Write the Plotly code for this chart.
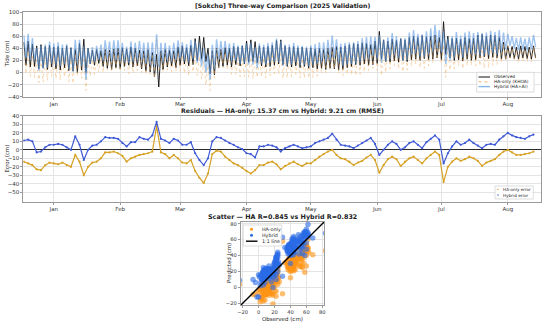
import plotly.graph_objects as go
from datetime import datetime, timedelta

# ---------------- data ----------------
start_date = "2024-12-18"
step_days = 2  # one high / low pair per 2-day step

obs_high = [50, 52, 47, 44, 46, 43, 45, 42, 43, 40,
            44, 41, 38, 48, 55, 40, 37, 38, 36, 38,
            37, 39, 40, 41, 39, 42, 40, 37, 36, 38,
            33, 30, 36, 38, 37, 36, 42, 44, 41, 45,
            56, 60, 58, 40, 36, 40, 38, 41, 40, 43,
            42, 44, 52, 54, 51, 44, 42, 43, 45, 53,
            54, 44, 42, 43, 41, 42, 40, 41, 39, 40,
            38, 40, 42, 43, 42, 44, 46, 48, 47, 49,
            48, 46, 52, 68, 54, 52, 55, 53, 56, 54,
            58, 60, 58, 61, 59, 60, 62, 58, 84, 60,
            56, 57, 55, 58, 56, 57, 62, 63, 60, 62,
            61, 58, 50, 44, 43, 42, 44, 43, 42, 44]

obs_low = [12, 9, 10, 6, 8, 5, 9, 6, 4, 8,
           3, 2, 0, 4, 0, 14, 12, 15, 10, 7,
           5, 8, 6, 10, 12, 9, 11, 6, 2, 1,
           -7, -24, 5, 9, 11, 8, 12, 14, 11, 13,
           20, 22, 18, -2, -4, 8, 10, 12, 9, 13,
           11, 14, 17, 18, 16, 11, 9, 10, 12, 14,
           13, 10, 9, 11, 8, 10, 7, 8, 6, 7,
           5, 7, 6, 4, 5, 8, 10, 13, 12, 14,
           12, 13, 15, 22, 18, 17, 19, 17, 20, 18,
           21, 22, 20, 23, 21, 22, 24, 21, 30, 24,
           20, 21, 19, 22, 20, 21, 24, 26, 23, 25,
           24, 22, 22, 24, 23, 22, 24, 23, 22, 24]

# residual = prediction - observation (cm)
hybrid_err = [11, 12, 10, -3, -2, 3, 6, 6, 7, 6,
              3, 0, 16, 6, -12, 0, 5, 6, 10, 15,
              14, 14, 13, 8, 4, 9, 9, 15, 13, 12,
              17, 33, 13, 11, 8, 13, 11, 6, 6, 9,
              -4, -12, -18, -10, 10, 15, 14, 11, 8, 6,
              3, 1, -4, -5, -9, 4, 4, 6, 5, 3,
              -2, 2, 4, 6, 4, 2, 3, 4, 8, 10,
              12, 14, 19, 12, 6, 5, 4, 2, 5, 8,
              11, 14, 7, -6, 0, 6, 10, 7, 0, 3,
              8, 10, 6, 2, 9, 13, 17, 12, -16, -4,
              4, 10, 6, 8, 12, 8, 5, 2, 6, 7,
              6, 12, 16, 20, 17, 15, 14, 13, 16, 18]

ha_err = [-14, -16, -18, -23, -24, -18, -15, -16, -17, -15,
          -18, -20, -6, -14, -30, -20, -15, -14, -10, -3,
          -3, -2, -4, -7, -14, -10, -8, -6, -5, -4,
          -2, 28, -3, -5, -10, -6, -10, -15, -16, -12,
          -25, -33, -39, -28, -5, -1, -2, -8, -12, -16,
          -18, -21, -25, -28, -24, -18, -18, -15, -14, -17,
          -23, -19, -16, -14, -17, -19, -16, -16, -12, -8,
          -5, -2, 0, -6, -10, -11, -14, -18, -15, -13,
          -9, -6, -12, -27, -18, -11, -8, -11, -19, -14,
          -10, -8, -12, -16, -10, -6, -2, -6, -38, -20,
          -14, -10, -13, -11, -8, -10, -13, -19, -15, -13,
          -11, -6, -2, 0, -3, -6, -6, -5, -4, -2]

month_ticks = ["2025-01-01", "2025-02-01", "2025-03-01", "2025-04-01",
               "2025-05-01", "2025-06-01", "2025-07-01", "2025-08-01"]
month_labels = ["Jan", "Feb", "Mar", "Apr", "May", "Jun", "Jul", "Aug"]
tide_ticks = [-40, -20, 0, 20, 40, 60, 80, 100]
err_ticks = [-50, -40, -30, -20, -10, 0, 10, 20, 30, 40]
scatter_ticks = [-20, 0, 20, 40, 60, 80]

title_top = "[Sokcho] Three-way Comparison (2025 Validation)"
title_mid = "Residuals \u2014 HA-only: 15.37 cm vs Hybrid: 9.21 cm (RMSE)"
title_sc = "Scatter \u2014 HA R=0.845 vs Hybrid R=0.832"

# ---------------- derived series ----------------
t0 = datetime.fromisoformat(start_date)
n = len(obs_high)
t_high = [t0 + timedelta(days=step_days * i) for i in range(n)]
t_low = [t0 + timedelta(days=step_days * i + 1) for i in range(n)]

zig_t, zig_obs, zig_ha, zig_hy = [], [], [], []
for i in range(n):
    zig_t += [t_high[i], t_low[i]]
    zig_obs += [obs_high[i], obs_low[i]]
    zig_ha += [obs_high[i] + ha_err[i], obs_low[i] + ha_err[i]]
    zig_hy += [obs_high[i] + hybrid_err[i], obs_low[i] + hybrid_err[i]]

W, H = 550, 324
def px(x):
    return x / W
def py(y):
    return 1 - y / H

FONT = "DejaVu Sans"
GRID = "#e4e4e4"
SPINE = "#9a9a9a"

C_OBS = "#111111"
C_HA_TOP = "rgba(240,180,110,0.6)"
C_HY_TOP = "rgba(95,155,225,0.6)"
C_HA_ERR = "#d6a124"
C_HY_ERR = "#3f5ad6"
C_HA_SC = "#ff9415"
C_HY_SC = "#2a6ae6"

fig = go.Figure()

# top panel
fig.add_trace(go.Scatter(x=zig_t, y=zig_obs, mode="lines", name="Observed",
                         line=dict(color=C_OBS, width=0.9), xaxis="x", yaxis="y"))
fig.add_trace(go.Scatter(x=zig_t, y=zig_ha, mode="lines", name="HA-only (KHOA)",
                         line=dict(color=C_HA_TOP, width=0.9, dash="dot"), xaxis="x", yaxis="y"))
fig.add_trace(go.Scatter(x=zig_t, y=zig_hy, mode="lines", name="Hybrid (HA+AI)",
                         line=dict(color=C_HY_TOP, width=1.4), xaxis="x", yaxis="y"))

# residual panel
fig.add_trace(go.Scatter(x=t_high, y=ha_err, mode="lines+markers", name="HA-only error",
                         line=dict(color=C_HA_ERR, width=1.2), marker=dict(size=2.2, color=C_HA_ERR),
                         xaxis="x2", yaxis="y2"))
fig.add_trace(go.Scatter(x=t_high, y=hybrid_err, mode="lines+markers", name="Hybrid error",
                         line=dict(color=C_HY_ERR, width=1.2), marker=dict(size=2.2, color=C_HY_ERR),
                         xaxis="x2", yaxis="y2"))

# scatter panel
fig.add_trace(go.Scatter(x=zig_obs, y=zig_ha, mode="markers", name="HA-only",
                         marker=dict(size=5.5, color=C_HA_SC, opacity=0.6),
                         xaxis="x3", yaxis="y3"))
fig.add_trace(go.Scatter(x=zig_obs, y=zig_hy, mode="markers", name="Hybrid",
                         marker=dict(size=5.5, color=C_HY_SC, opacity=0.6),
                         xaxis="x3", yaxis="y3"))
sc_range = [-22.5, 82.5]
fig.add_trace(go.Scatter(x=sc_range, y=sc_range, mode="lines", name="1:1 line",
                         line=dict(color="black", width=1.4), xaxis="x3", yaxis="y3"))

tickfont = dict(family=FONT, size=5.5, color="#333")
common = dict(showgrid=True, gridcolor=GRID, gridwidth=0.6, showline=True, linecolor=SPINE,
              linewidth=0.7, mirror=True, ticks="outside", ticklen=2, tickcolor=SPINE,
              tickfont=tickfont, zeroline=False, automargin=False)

date_range = ["2024-12-17 18:00", "2025-08-16 12:00"]

fig.update_layout(
    width=W, height=H, margin=dict(l=0, r=0, t=0, b=0),
    paper_bgcolor="white", plot_bgcolor="white", showlegend=False, hovermode=False,
    font=dict(family=FONT, size=5.5, color="#222"),
    xaxis=dict(domain=[px(23.3), px(541)], anchor="y", type="date", range=date_range,
               tickvals=month_ticks, ticktext=month_labels, **common),
    yaxis=dict(domain=[py(96.7), py(12)], anchor="x", range=[-40, 100],
               tickvals=tide_ticks, **common),
    xaxis2=dict(domain=[px(23.3), px(541)], anchor="y2", type="date", range=date_range,
                tickvals=month_ticks, ticktext=month_labels, **common),
    yaxis2=dict(domain=[py(202), py(115.5)], anchor="x2", range=[-61.5, 40.5],
                tickvals=err_ticks, **{**common, "zeroline": True},
                zerolinecolor="#2b2b2b", zerolinewidth=0.9),
    xaxis3=dict(domain=[px(240.7), px(324.3)], anchor="y3", range=sc_range,
                tickvals=scatter_ticks, **{**common, "tickfont": dict(family=FONT, size=5.2, color="#333")}),
    yaxis3=dict(domain=[py(305.3), py(221.7)], anchor="x3", range=sc_range,
                tickvals=scatter_ticks, **{**common, "tickfont": dict(family=FONT, size=5.2, color="#333")}),
)

ann = []
def text(x, y, s, size=5.5, bold=False, angle=0, xanchor="center", color="#222"):
    ann.append(dict(x=px(x), y=py(y), xref="paper", yref="paper", text=("<b>%s</b>" % s) if bold else s,
                    showarrow=False, xanchor=xanchor, yanchor="middle", textangle=angle,
                    font=dict(family=FONT, size=size, color=color)))

text(282, 6.2, title_top, size=6.2, bold=True)
text(282, 111.3, title_mid, size=6.2, bold=True)
text(282.5, 216.5, title_sc, size=6.4, bold=True)
text(6.5, 54, "Tide (cm)", angle=-90)
text(6.5, 159, "Error (cm)", angle=-90)
text(228.5, 263.5, "Predicted (cm)", angle=-90)
text(282.5, 318.5, "Observed (cm)")

shapes = []
def rect(x0, y0, x1, y1):
    shapes.append(dict(type="rect", xref="paper", yref="paper", x0=px(x0), x1=px(x1), y0=py(y1), y1=py(y0),
                       line=dict(color="#c8c8c8", width=0.6), fillcolor="rgba(255,255,255,0.85)", layer="above"))
def hline(x0, x1, y, color, width, dash="solid"):
    shapes.append(dict(type="line", xref="paper", yref="paper", x0=px(x0), x1=px(x1), y0=py(y), y1=py(y),
                       line=dict(color=color, width=width, dash=dash), layer="above"))
def dot(x, y, r, color):
    shapes.append(dict(type="circle", xref="paper", yref="paper", x0=px(x - r), x1=px(x + r),
                       y0=py(y + r), y1=py(y - r), line=dict(width=0), fillcolor=color, layer="above"))

# legend: top panel
rect(476.7, 72.3, 534, 92)
hline(478.5, 490, 77, C_OBS, 1.0)
hline(478.5, 490, 81.8, "rgba(240,175,100,0.9)", 1.0, "dot")
hline(478.5, 490, 86.6, "rgba(105,165,228,0.8)", 1.4)
text(492, 77, "Observed", size=4.4, xanchor="left")
text(492, 81.8, "HA-only (KHOA)", size=4.4, xanchor="left")
text(492, 86.6, "Hybrid (HA+AI)", size=4.4, xanchor="left")

# legend: residual panel
rect(495, 186, 533.3, 199)
dot(498, 189.4, 0.7, C_HA_ERR)
dot(498, 195, 0.7, C_HY_ERR)
text(501, 189.4, "HA-only error", size=4.2, xanchor="left")
text(501, 195, "Hybrid error", size=4.2, xanchor="left")

# legend: scatter panel
rect(243.3, 225, 281.7, 246)
dot(251.5, 229.2, 1.5, C_HA_SC)
dot(251.5, 235.2, 1.5, C_HY_SC)
hline(246, 257.5, 241.2, "black", 1.4)
text(260, 229.2, "HA-only", size=4.8, xanchor="left")
text(260, 235.2, "Hybrid", size=4.8, xanchor="left")
text(260, 241.2, "1:1 line", size=4.8, xanchor="left")

fig.update_layout(annotations=ann, shapes=shapes)
fig.write_html("out.html", config={"displayModeBar": False},
               post_script="document.body.style.margin='0';")
